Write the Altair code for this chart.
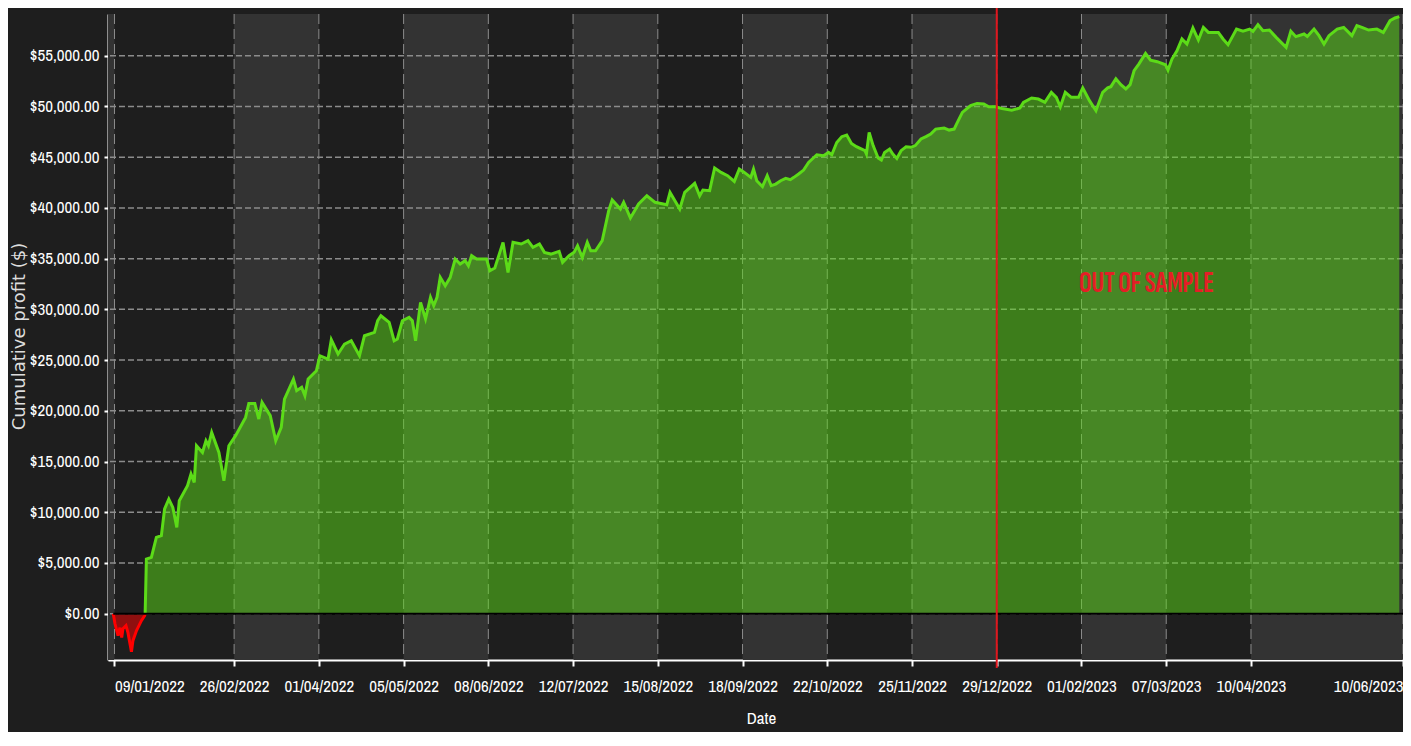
import altair as alt
import pandas as pd

# ---------------- data ----------------
start_date = "2022-01-09"          # day 0 for the offsets below

# in-sample start: losing stretch (days after start_date, cumulative profit $)
loss_days = [-0.5, 0.2, 1.4, 2.2, 2.9, 3.4, 4.6, 5.4, 6.8, 7.4, 8.8, 10.8, 12.1, 12.3]
loss_profit = [0, -990, -2170, -1380, -2340, -1480, -1180, -1870, -3750, -2660, -1680, -690, -200, 0]

gain_days = [
    12.3, 12.8, 14.8, 16.8, 18.8, 20.1, 21.8, 23.4, 25.0, 26.0, 29.3, 30.7, 32.0, 32.9, 35.3, 36.7,
    37.7, 39.0, 41.9, 43.9, 45.9, 48.6, 52.6, 53.9, 56.3, 57.9, 59.2, 62.5, 64.7, 66.9, 68.2, 71.8,
    73.1, 75.1, 76.4, 77.7, 81.0, 82.4, 85.7, 87.0, 89.7, 92.3, 95.0, 98.3, 100.3, 104.3, 105.6,
    106.9, 110.2, 112.2, 113.5, 115.5, 118.2, 119.5, 120.8, 122.8, 124.8, 126.8, 128.1, 129.4,
    130.7, 132.7, 134.7, 136.7, 138.7, 140.7, 142.0, 143.3, 145.3, 149.3, 150.6, 152.6, 155.9,
    157.9, 159.9, 163.2, 165.9, 167.9, 170.5, 172.5, 175.1, 178.4, 179.8, 182.4, 184.4, 185.8,
    187.7, 189.7, 191.1, 193.0, 195.7, 198.3, 199.7, 203.0, 204.3, 207.0, 210.3, 213.6, 216.9,
    221.6, 222.9, 226.8, 228.8, 232.8, 234.8, 236.1, 238.8, 240.8, 243.4, 246.0, 248.7, 250.7,
    252.7, 255.3, 256.4, 257.7, 260.0, 261.9, 263.5, 265.3, 267.3, 269.3, 271.2, 272.6, 274.5,
    276.5, 278.5, 281.8, 284.5, 286.5, 287.8, 289.8, 291.8, 293.8, 295.7, 297.7, 301.1, 301.7,
    302.8, 304.4, 306.4, 307.7, 309.0, 311.0, 312.3, 313.9, 315.6, 317.6, 319.6, 321.3, 323.6,
    325.6, 327.5, 329.5, 332.9, 334.9, 336.9, 338.2, 340.2, 343.5, 346.1, 348.8, 350.8, 353.4,
    356.1, 360.0, 363.3, 364.7, 368.0, 370.7, 373.3, 375.9, 377.9, 379.5, 381.5, 383.9, 386.8,
    388.5, 391.2, 393.8, 396.5, 398.5, 399.8, 401.8, 403.8, 405.8, 407.5, 409.1, 411.0, 413.7,
    415.7, 418.4, 421.7, 422.7, 424.3, 426.3, 428.3, 430.3, 432.7, 434.9, 436.9, 438.9, 442.9,
    444.8, 446.8, 450.2, 452.8, 455.5, 456.8, 458.8, 460.8, 463.4, 466.1, 470.1, 472.0, 474.0,
    477.3, 478.6, 481.3, 483.3, 485.3, 487.3, 490.6, 493.2, 496.5, 498.5, 500.5, 503.2, 506.5,
    509.1, 511.8, 513.8, 515.5,
]
gain_profit = [
    0, 5380, 5550, 7520, 7690, 10320, 11300, 10480, 8510, 11140, 12620, 13770, 12940, 16560, 15900, 17050,
    16560, 17870, 15900, 13110, 16560, 17550, 19350, 20730, 20730, 19190, 20830, 19520, 17050, 18360, 21160, 23130,
    21980, 22310, 21490, 23130, 23950, 25430, 25100, 27000, 25600, 26580, 26910, 25430, 27400, 27730, 28880,
    29370, 28710, 26910, 27080, 28880, 29210, 28880, 26910, 30690, 29050, 31180, 30360, 31180,
    33150, 32330, 33150, 34960, 34470, 34800, 34300, 35290, 34960, 34960, 33810, 34080, 36600,
    33640, 36600, 36440, 36770, 36110, 36440, 35620, 35450, 35720, 34630, 35290, 35620, 36270,
    35120, 36600, 35780, 35780, 36770, 39730, 40780, 39890, 40550, 39010, 40390, 41200, 40550,
    40320, 41530, 39890, 41530, 42420, 41200, 41760, 41700, 43930, 43500, 43180, 42610, 43830,
    43500, 43010, 43830, 42680, 42090, 43180, 42190, 42350, 42680, 42910, 42780, 43010, 43340,
    43730, 44490, 45240, 45140, 45470, 45240, 46450, 47020, 47180, 46360, 46030, 45640, 45310,
    47450, 46140, 44920, 44720, 45470, 45800, 45310, 44880, 45640, 46030, 45970, 46140, 46790,
    47020, 47280, 47770, 47870, 47670, 47770, 48430, 49420, 50080, 50300, 50240, 49970, 49970,
    49800, 49620, 49850, 50400, 50830, 50730, 50400, 51390, 50900, 49970, 51390, 50900, 50900,
    51830, 50570, 49580, 51390, 51830, 51950, 52730, 52150, 51720, 52150, 53520, 54180, 55220,
    54570, 54410, 54110, 53590, 54670, 55490, 56650, 56150, 57730, 56550, 57790, 57300, 57300,
    56650, 56090, 57630, 57410, 57630, 57400, 58060, 57470, 57530, 56810, 55820, 57410, 56880,
    57140, 56900, 57630, 56980, 56150, 56980, 57630, 57790, 56980, 57960, 57800, 57530, 57630,
    57300, 58450, 58720, 58850,
]

tick_labels = ["09/01/2022", "26/02/2022", "01/04/2022", "05/05/2022", "08/06/2022",
               "12/07/2022", "15/08/2022", "18/09/2022", "22/10/2022", "25/11/2022",
               "29/12/2022", "01/02/2023", "07/03/2023", "10/04/2023", "10/06/2023"]
y_ticks = [0, 5000, 10000, 15000, 20000, 25000, 30000, 35000, 40000, 45000, 50000, 55000]

x_domain = ["2022-01-06T09:30:00", "2023-06-10T00:00:00"]
y_domain = [-4564, 59113]

oos_date = "2022-12-29"
oos_label = "OUT OF SAMPLE"
oos_label_date = "2023-02-27T00:00:00"
oos_label_profit = 32600

# ---------------- styling ----------------
BG = "#1e1e1e"
BAND = "#333333"
GREEN = "#5cdb18"
RED = "#ff0000"
LABEL_FONT = "Archivo Narrow"
W, H = 1295, 646

# ---------------- tables ----------------
base = pd.Timestamp(start_date)
loss_df = pd.DataFrame({"date": base + pd.to_timedelta(loss_days, unit="D"), "profit": loss_profit})
gain_df = pd.DataFrame({"date": base + pd.to_timedelta(gain_days, unit="D"), "profit": gain_profit})


def to_dt(s):
    ts = pd.Timestamp(s)
    return alt.DateTime(year=ts.year, month=ts.month, date=ts.day, hours=ts.hour, minutes=ts.minute)


tick_ts = [pd.to_datetime(t, format="%d/%m/%Y") for t in tick_labels]
tick_values = [alt.DateTime(year=t.year, month=t.month, date=t.day) for t in tick_ts]

edges = [pd.Timestamp(x_domain[0])] + tick_ts
bands = pd.DataFrame([
    {"start": edges[i], "end": edges[i + 1]}
    for i in range(len(edges) - 1) if i % 2 == 0
])
vgrid = pd.DataFrame({"date": tick_ts})
hgrid = pd.DataFrame({"profit": y_ticks})

x_scale = alt.Scale(domain=[to_dt(x_domain[0]), to_dt(x_domain[1])], nice=False)
y_scale = alt.Scale(domain=y_domain, nice=False, zero=False)

x_axis = alt.Axis(
    title="Date", values=tick_values, format="%d/%m/%Y", labelFlush=8, labelOverlap=False,
    grid=False, domainColor="white", domainWidth=2, tickColor="white", tickWidth=2, tickSize=6,
    labelColor="white", labelFont=LABEL_FONT, labelFontSize=17, labelPadding=12,
    titleColor="white", titleFont=LABEL_FONT, titleFontSize=17, titleFontWeight="normal",
    titleX=653, titleY=58, titleBaseline="middle", titleAlign="center",
)
y_axis = alt.Axis(
    title="Cumulative profit ($)", values=y_ticks, format="$,.2f", grid=False,
    domainColor="white", domainWidth=2, tickColor="white", tickWidth=2, tickSize=4,
    labelColor="white", labelFont=LABEL_FONT, labelFontSize=17, labelPadding=5,
    titleColor="#dddddd", titleFont="DejaVu Sans", titleFontSize=18, titleFontWeight="normal",
    titleX=-89, titleY=322, titleAngle=270, titleBaseline="middle", titleAlign="center",
)


def X(field):
    return alt.X(field, scale=x_scale, axis=x_axis)


def Y(field):
    return alt.Y(field, scale=y_scale, axis=y_axis)


band_layer = alt.Chart(bands).mark_rect(color=BAND).encode(x=X("start:T"), x2="end:T")
vgrid_layer = alt.Chart(vgrid).mark_rule(color="#8c8c8c", strokeWidth=1, strokeDash=[10, 5]).encode(
    x=X("date:T"))
hgrid_layer = alt.Chart(hgrid).mark_rule(color="#8c8c8c", strokeWidth=1.5, strokeDash=[6, 3]).encode(
    y=Y("profit:Q"))

loss_area = alt.Chart(loss_df).mark_area(color=RED, opacity=0.5).encode(
    x=X("date:T"), y=Y("profit:Q"), y2=alt.Y2Datum(0))
gain_area = alt.Chart(gain_df).mark_area(color=GREEN, opacity=0.5).encode(
    x=X("date:T"), y=Y("profit:Q"), y2=alt.Y2Datum(0))
loss_line = alt.Chart(loss_df).mark_line(color=RED, strokeWidth=3).encode(
    x=X("date:T"), y=Y("profit:Q"))
gain_line = alt.Chart(gain_df).mark_line(color=GREEN, strokeWidth=3).encode(
    x=X("date:T"), y=Y("profit:Q"))

zero_df = pd.DataFrame({"start": [loss_df["date"].iloc[0]], "end": [pd.Timestamp(x_domain[1])], "profit": [0]})
zero_rule = alt.Chart(zero_df).mark_rule(color="black", strokeWidth=2).encode(
    x=X("start:T"), x2="end:T", y=Y("profit:Q"))

oos_rule = alt.Chart(pd.DataFrame({"date": [pd.Timestamp(oos_date)]})).mark_rule(
    color="#e0161e", strokeWidth=2
).encode(x=X("date:T"), y=alt.value(-6), y2=alt.value(H + 8))

oos_text = alt.Chart(pd.DataFrame({
    "date": [pd.Timestamp(oos_label_date)], "profit": [oos_label_profit], "label": [oos_label]
})).mark_text(
    color="#e41e26", font="Sofia Sans Extra Condensed", fontSize=29, fontWeight="bold",
    align="center", baseline="middle"
).encode(x=X("date:T"), y=Y("profit:Q"), text="label:N")

chart = alt.layer(
    band_layer, vgrid_layer, hgrid_layer,
    loss_area, gain_area, loss_line, gain_line,
    zero_rule, oos_rule, oos_text,
).properties(
    width=W, height=H,
    autosize="none",
    padding={"left": 100, "top": 6, "right": 0, "bottom": 72},
    background=BG,
).configure_view(stroke=None)

chart.save("out.html", embed_options={"renderer": "svg", "actions": False})
